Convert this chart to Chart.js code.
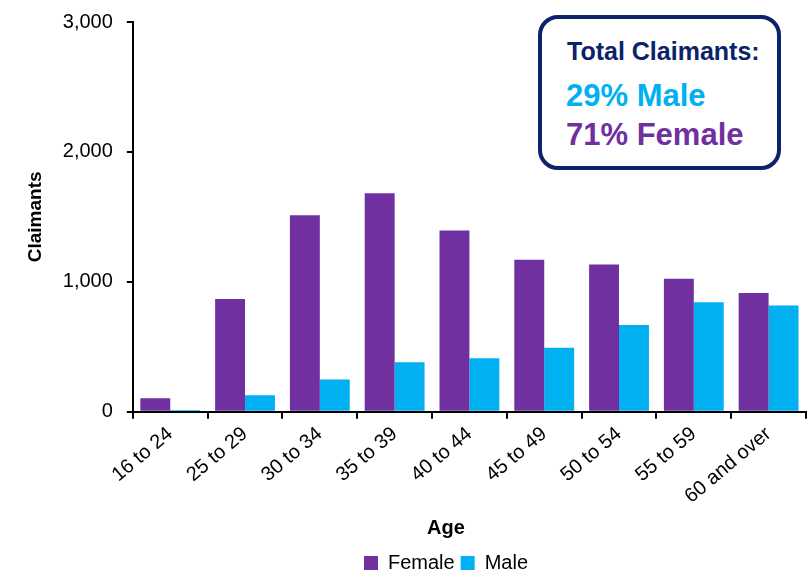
<!DOCTYPE html>
<html>
<head>
<meta charset="utf-8">
<script src="https://cdn.jsdelivr.net/npm/chart.js@4"></script>
<style>
  html, body { margin: 0; padding: 0; background: #fff; }
  #wrap { position: relative; width: 812px; height: 574px; }
  #box {
    position: absolute; left: 538px; top: 15px; width: 235px; height: 147px;
    border: 4px solid #0B2369; border-radius: 20px; background: #fff;
    font-family: "Liberation Sans", Arial, sans-serif; font-weight: bold;
  }
  #box div { position: absolute; line-height: 1; white-space: nowrap; }
  #box .t { left: 25px; top: 20px; font-size: 25px; color: #0B2369; }
  #box .m { left: 24px; top: 61px; font-size: 31px; color: #00B0F0; }
  #box .f { left: 24px; top: 100px; font-size: 31px; color: #7030A0; }
</style>
</head>
<body>
<div id="wrap">
  <canvas id="c" width="812" height="574"></canvas>
  <div id="box">
    <div class="t">Total Claimants:</div>
    <div class="m">29% Male</div>
    <div class="f">71% Female</div>
  </div>
</div>
<script>
const categories = ["16 to 24", "25 to 29", "30 to 34", "35 to 39", "40 to 44", "45 to 49", "50 to 54", "55 to 59", "60 and over"];
const femaleValues = [103, 867, 1513, 1682, 1395, 1169, 1134, 1023, 913];
const maleValues = [13, 126, 248, 380, 411, 492, 667, 842, 818];
const yTicks = [0, 1000, 2000, 3000];

const FONT = "'Liberation Sans', Arial, sans-serif";

// shift the bottom title ("Age") and legend to the right, as in the reference
const shiftBottom = {
  id: 'shiftBottom',
  afterLayout(chart) {
    const dx = 31;
    [chart.legend, chart.titleBlock].forEach(b => {
      if (b) { b.left += dx; b.right += dx; }
    });
  }
};

new Chart(document.getElementById('c'), {
  type: 'bar',
  data: {
    labels: categories,
    datasets: [
      { label: 'Female', data: femaleValues, backgroundColor: '#7030A0', borderWidth: 0 },
      { label: 'Male', data: maleValues, backgroundColor: '#00B0F0', borderWidth: 0 }
    ]
  },
  plugins: [shiftBottom],
  options: {
    responsive: false,
    animation: false,
    devicePixelRatio: 1,
    layout: { padding: { top: 0, right: 6, left: 24, bottom: -9 } },
    datasets: { bar: { categoryPercentage: 0.8, barPercentage: 1.0 } },
    plugins: {
      title: {
        display: true, text: 'Age', position: 'bottom', weight: 500,
        font: { family: FONT, size: 20, weight: 'bold' },
        color: '#000', padding: { top: 4, bottom: 7 }
      },
      legend: {
        position: 'bottom',
        labels: {
          font: { family: FONT, size: 20 },
          color: '#000',
          boxWidth: 14, boxHeight: 14,
          padding: 6
        }
      },
      tooltip: { enabled: false }
    },
    scales: {
      x: {
        grid: { display: true, drawOnChartArea: false, offset: true, color: '#000', tickLength: 7, lineWidth: 2 },
        border: { display: true, color: '#000', width: 2 },
        ticks: {
          font: { family: FONT, size: 20 },
          color: '#000',
          minRotation: 40, maxRotation: 40,
          padding: 3.5
        }
      },
      y: {
        min: 0, max: 3000,
        afterBuildTicks: (axis) => { axis.ticks = yTicks.map(v => ({ value: v })); },
        grid: { display: true, drawOnChartArea: false, color: '#000', tickLength: 6, lineWidth: 2 },
        border: { display: true, color: '#000', width: 2 },
        ticks: {
          font: { family: FONT, size: 20, lineHeight: 0.8 },
          color: '#000',
          padding: 14,
          callback: (v) => v.toLocaleString('en-US')
        },
        title: {
          display: true, text: 'Claimants',
          font: { family: FONT, size: 19, weight: 'bold' },
          color: '#000', padding: { top: 0, bottom: 2 }
        }
      }
    }
  }
});
</script>
</body>
</html>
